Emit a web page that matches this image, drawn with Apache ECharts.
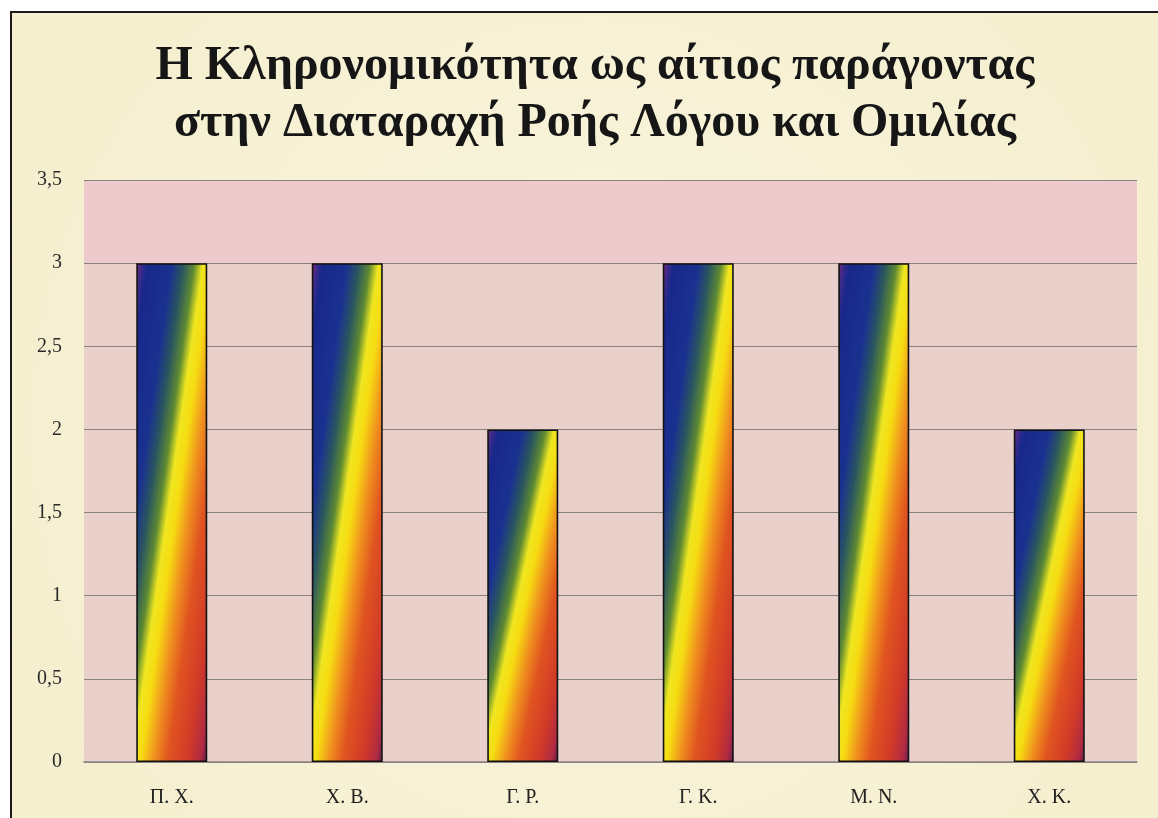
<!DOCTYPE html>
<html><head><meta charset="utf-8">
<script src="https://cdn.jsdelivr.net/npm/echarts@6/dist/echarts.min.js"></script>
<style>html,body{margin:0;padding:0;background:#fff}#c{width:1158px;height:818px}</style>
</head><body><div id="c"></div>
<script>
const titleLines = ['Η Κληρονομικότητα ως αίτιος παράγοντας', 'στην Διαταραχή Ροής Λόγου και Ομιλίας'];
const categories = ['Π. Χ.', 'Χ. Β.', 'Γ. Ρ.', 'Γ. Κ.', 'Μ. Ν.', 'Χ. Κ.'];
const values = [3, 3, 2, 3, 3, 2];
const yMin = 0, yMax = 3.5, yStep = 0.5;

const gridTop = 180, gridBottom = 56, gridLeft = 84, gridRight = 21;
const pxPerUnit = (818 - gridTop - gridBottom) / (yMax - yMin);
const barW = 71;
const stops = [
  [0, '#8a2a78'], [0.04, '#3a2a8c'], [0.08, '#18288a'], [0.25, '#1a3190'],
  [0.33, '#2a5560'], [0.41, '#5e8a32'], [0.47, '#efe620'], [0.53, '#f6dc12'],
  [0.62, '#f0921e'], [0.72, '#e05420'], [0.86, '#d03a28'], [0.95, '#b02a42'], [1, '#5e1e52']
];
function barGradient(v) {
  const h = v * pxPerUnit, w = barW;
  const d = h * h + w * w;
  return new echarts.graphic.LinearGradient(0, 0, 2 * h * h / d, 2 * w * w / d,
    stops.map(s => ({offset: s[0], color: s[1]})));
}

const chart = echarts.init(document.getElementById('c'), null, {renderer: 'canvas'});
chart.setOption({
  backgroundColor: '#ffffff',
  animation: false,
  graphic: [{
    type: 'rect', z: -10, silent: true,
    shape: {x: 11, y: 12, width: 1170, height: 830},
    style: {
      fill: new echarts.graphic.RadialGradient(0.5, 0.5, 0.75, [
        {offset: 0, color: '#faf6df'}, {offset: 1, color: '#f5efcf'}
      ]),
      stroke: '#1a1a1a', lineWidth: 2
    }
  }],
  title: {
    text: titleLines.join('\n'),
    left: 590, textAlign: 'center', top: 33,
    textStyle: {
      fontFamily: 'Liberation Serif', fontWeight: 'bold', fontSize: 48,
      lineHeight: 57, color: '#161616'
    }
  },
  grid: {left: gridLeft, right: gridRight, top: gridTop, bottom: gridBottom, containLabel: false},
  xAxis: {
    type: 'category', data: categories,
    axisLine: {show: true, lineStyle: {color: '#8a8282', width: 1.5}},
    axisTick: {show: false},
    axisLabel: {margin: 26, fontFamily: 'Liberation Serif', fontSize: 20, color: '#222'}
  },
  yAxis: {
    type: 'value', min: yMin, max: yMax, interval: yStep,
    axisLine: {show: false}, axisTick: {show: false},
    axisLabel: {
      margin: 22, fontFamily: 'Liberation Serif', fontSize: 20, color: '#2a2a2a',
      formatter: v => String(v).replace('.', ',')
    },
    splitLine: {show: true, lineStyle: {color: '#8a8282', width: 1.2}},
    splitArea: {show: true, areaStyle: {color: ['#e9d0cb', '#e9d0cb', '#e9d0cb', '#e9d0cb', '#e9d0cb', '#e9d0cb', '#eecacd'], opacity: 1}}
  },
  series: [{
    type: 'bar',
    barWidth: barW,
    data: values.map(v => ({
      value: v,
      itemStyle: {color: barGradient(v), borderColor: '#121212', borderWidth: 1.6}
    }))
  }]
});
</script></body></html>
